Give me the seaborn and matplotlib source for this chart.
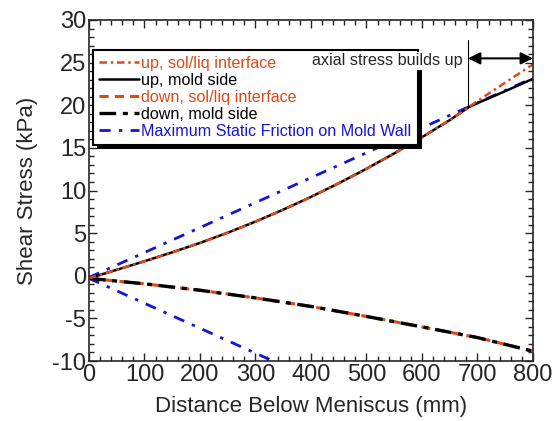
import numpy as np
import pandas as pd
import matplotlib
matplotlib.use("Agg")
import matplotlib.pyplot as plt
from matplotlib.patches import Rectangle
from matplotlib.transforms import IdentityTransform
import seaborn as sns

# values
x_up = [0, 50, 100, 150, 200, 250, 300, 350, 400, 450, 500, 550, 600, 650, 685, 700, 750, 800]
up_mold = [-0.3, 0.7, 1.7, 2.75, 3.85, 5.05, 6.35, 7.75, 9.25, 10.85, 12.55, 14.35, 16.25, 18.25, 19.8, 20.25, 21.65, 23.1]
up_sol = [-0.3, 0.7, 1.7, 2.75, 3.85, 5.05, 6.35, 7.75, 9.25, 10.85, 12.55, 14.35, 16.25, 18.25, 19.8, 20.5, 22.65, 24.8]

x_down = [0, 100, 200, 300, 400, 500, 600, 700, 800]
down_mold = [-0.3, -0.95, -1.7, -2.6, -3.6, -4.77, -6.0, -7.25, -8.85]
down_sol = [-0.3, -0.95, -1.7, -2.6, -3.6, -4.77, -6.0, -7.25, -8.85]

x_fric_up = [0, 800]
fric_up = [-0.2, 23.2]
x_fric_down = [0, 340]
fric_down = [-0.3, -10.25]

orange = "#DE4A16"
blue = "#1414DC"

sns.set_style("ticks")
plt.rcParams["font.family"] = ["Liberation Sans", "DejaVu Sans"]
plt.rcParams["axes.unicode_minus"] = False

fig = plt.figure(figsize=(5.54, 4.21), dpi=100)
ax = fig.add_axes([0.1606, 0.1425, 0.8014, 0.81])

def draw(x, y, **kw):
    df = pd.DataFrame({"x": x, "y": y})
    sns.lineplot(data=df, x="x", y="y", ax=ax, sort=False, estimator=None, **kw)

draw(x_fric_up, fric_up, color=blue, lw=2.0, dashes=(4, 3, 1.2, 3),
     label="Maximum Static Friction on Mold Wall")
draw(x_fric_down, fric_down, color=blue, lw=2.0, dashes=(4, 3, 1.2, 3))
draw(x_down, down_sol, color=orange, lw=2.2, dashes=(3, 2), label="down, sol/liq interface")
draw(x_down, down_mold, color="black", lw=2.4, dashes=(5, 2, 1.5, 2), label="down, mold side")
draw(x_up, up_mold, color="black", lw=1.8, label="up, mold side")
draw(x_up, up_sol, color=orange, lw=1.8, dashes=(3, 1.5, 1, 1.5), label="up, sol/liq interface")

ax.set_xlim(0, 800)
ax.set_ylim(-10, 30)
ax.set_xticks(np.arange(0, 801, 100))
ax.set_xticks(np.arange(0, 801, 20), minor=True)
ax.set_yticks(np.arange(-10, 31, 5))
ax.set_yticks(np.arange(-10, 31, 1), minor=True)
ax.tick_params(which="both", direction="in", top=True, right=True, labelsize=17, pad=2)
ax.tick_params(which="major", length=6, width=1)
ax.tick_params(which="minor", length=3.5, width=1)
for s in ax.spines.values():
    s.set_linewidth(1.2)
ax.set_xlabel("Distance Below Meniscus (mm)", fontsize=16, labelpad=7)
ax.set_ylabel("Shear Stress (kPa)", fontsize=16, labelpad=10)

# axial stress annotation
ax.plot([683, 683], [19.8, 27.6], color="black", lw=0.8)
ax.annotate("", xy=(800, 25.5), xytext=(683, 25.5),
            arrowprops=dict(arrowstyle="<|-|>", color="black", lw=1.5,
                            mutation_scale=18, shrinkA=0, shrinkB=0))

handles, labels = ax.get_legend_handles_labels()
order = ["up, sol/liq interface", "up, mold side", "down, sol/liq interface",
         "down, mold side", "Maximum Static Friction on Mold Wall"]
hmap = dict(zip(labels, handles))
leg = ax.legend([hmap[k] for k in order], order,
                labelcolor=[orange, "black", orange, "black", blue],
                loc="upper left", bbox_to_anchor=(0.008, 0.913), fontsize=11.6,
                frameon=True, fancybox=False, framealpha=1, edgecolor="black",
                shadow=False, handlelength=2.5,
                handletextpad=0.1, labelspacing=0.12, borderpad=0.4, borderaxespad=0)
leg.get_frame().set_linewidth(1.5)
leg.set_zorder(5)

# solid black drop shadow behind the legend box
fig.canvas.draw()
bb = leg.get_window_extent()
ax.add_patch(Rectangle((bb.x0 + 4, bb.y0 - 4), bb.width, bb.height, transform=IdentityTransform(),
                       facecolor="black", edgecolor="none", zorder=4.5, clip_on=False))

ax.text(674, 25.2, "axial stress builds up", ha="right", va="center", fontsize=11.6, zorder=10,
        bbox=dict(facecolor="white", edgecolor="none", pad=1))

fig.savefig("out.png", dpi=100)
